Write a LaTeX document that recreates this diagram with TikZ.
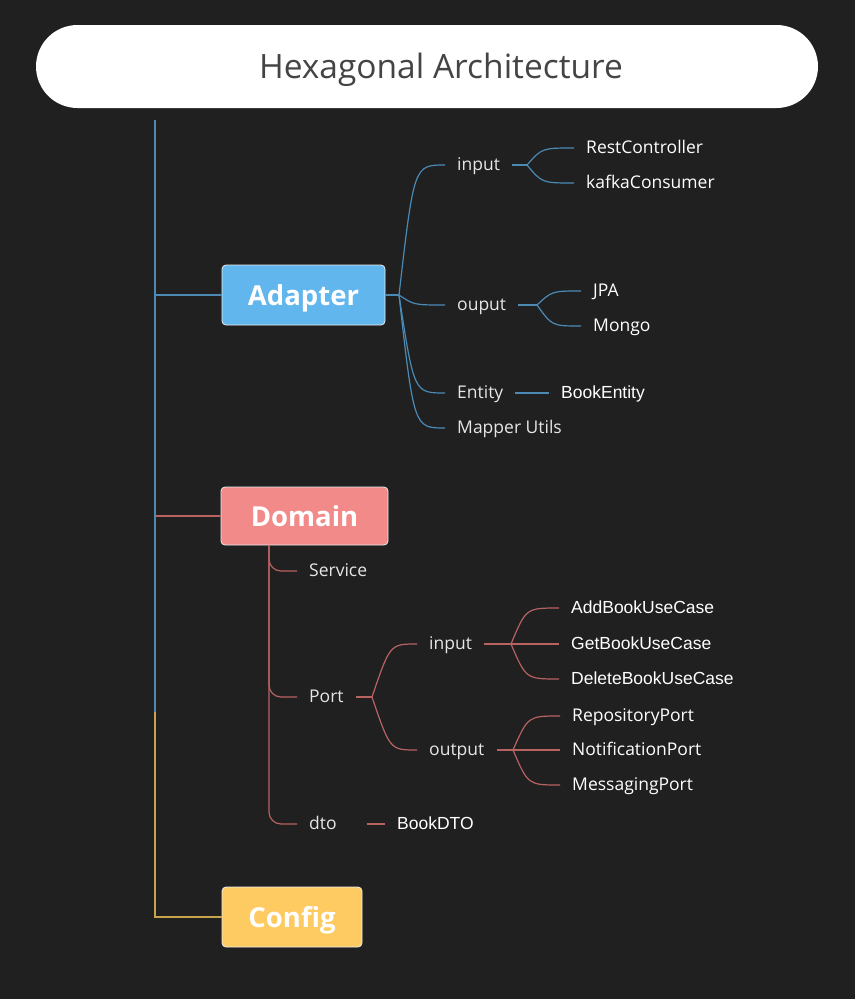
\documentclass[tikz,border=0pt]{standalone}
\usepackage{fontspec}
\setmainfont{Open Sans}
\newfontfamily\arialf{Liberation Sans}
\usetikzlibrary{calc}
\definecolor{bg}{HTML}{202020}
\definecolor{blueL}{HTML}{4A8AB4}
\definecolor{blueF}{HTML}{62B6EE}
\definecolor{redL}{HTML}{B86262}
\definecolor{redF}{HTML}{F38A8A}
\definecolor{yelL}{HTML}{C9A24C}
\definecolor{yelF}{HTML}{FECB63}
\definecolor{titleC}{HTML}{444444}
\definecolor{labC}{HTML}{E6E6E6}
\begin{document}
\begin{tikzpicture}[x=1pt,y=-1pt,
  topic/.style={rounded corners=4pt, draw=white!85!gray, line width=0.8pt, text=white,
    font=\fontsize{27.5}{30}\selectfont\bfseries, minimum height=60pt, inner sep=0pt,
    text height=24pt, text depth=3pt},
  lab/.style={anchor=west, inner xsep=12pt, inner ysep=2pt, text=labC,
    font=\fontsize{17.5}{20}\selectfont, text height=15pt, text depth=3.5pt},
  leaf/.style={lab, text=white},
  aleaf/.style={lab, text=white, font=\fontsize{17.5}{20}\selectfont\arialf},
  bl/.style={draw=blueL, line width=1.2pt},
  rl/.style={draw=redL, line width=1.2pt},
  yl/.style={draw=yelL, line width=1.2pt}]
\useasboundingbox (0,0) rectangle (855,999);
\fill[bg] (0,0) rectangle (855,999);

% title
\node[fill=white, rounded corners=41.5pt, minimum width=782pt, minimum height=83pt, inner sep=0pt] (title) at (427,66.5) {};
\node[text=titleC, font=\fontsize{33.5}{36}\selectfont, inner sep=0pt] (ttext) at (441,70) {Hexagonal Architecture};

% main topics
\node[topic, fill=blueF, minimum width=163pt] (ad) at (303.5,295) {Adapter};
\node[topic, fill=redF, minimum width=167pt, minimum height=58pt] (dm) at (304.5,516) {Domain};
\node[topic, fill=yelF, minimum width=140pt] (cf) at (292,917) {Config};

% main trunk
\coordinate (top) at (155,120);
\coordinate (split) at (155,712);
\draw[bl] (top) -- (split);
\draw[yl] (split) |- (cf.west);
\draw[bl] (top |- ad.west) -- (ad.west);
\draw[rl] (top |- dm.west) -- (dm.west);

% ---------- Adapter ----------
\node[lab] (ainp) at (445,165) {input};
\node[lab] (aout) at (445,305) {ouput};
\node[lab] (aent) at (445,393) {Entity};
\node[lab] (amap) at (445,428) {Mapper Utils};
\node[leaf] (rest) at (574,148) {RestController};
\node[leaf] (kafka) at (574,183) {kafkaConsumer};
\node[leaf] (jpa) at (581,291) {JPA};
\node[leaf] (mongo) at (581,326) {Mongo};
\node[aleaf] (bent) at (549,393) {BookEntity};

\coordinate (ab) at (399,295);
\draw[bl] (ad.east) -- (ab);
\draw[bl] (ab) .. controls (414,165) .. (ainp.west);
\draw[bl] (ab) .. controls (414,305) .. (aout.west);
\draw[bl] (ab) .. controls (414,393) .. (aent.west);
\draw[bl] (ab) .. controls (414,428) .. (amap.west);

\coordinate (aib) at (527,165);
\draw[bl] (ainp.east) -- (aib);
\draw[bl] (aib) .. controls (542,148) .. (rest.west);
\draw[bl] (aib) .. controls (542,183) .. (kafka.west);

\coordinate (aob) at (537,305);
\draw[bl] (aout.east) -- (aob);
\draw[bl] (aob) .. controls (552,291) .. (jpa.west);
\draw[bl] (aob) .. controls (552,326) .. (mongo.west);

\draw[bl] (aent.east) -- (bent.west);

% ---------- Domain ----------
\node[lab] (svc) at (297,571) {Service};
\node[lab] (port) at (297,697) {Port};
\node[lab] (dto) at (297,824) {dto};
\node[lab] (pin) at (417,644) {input};
\node[lab] (pout) at (417,750) {output};
\node[aleaf] (add) at (559,608) {AddBookUseCase};
\node[aleaf] (get) at (559,644) {GetBookUseCase};
\node[aleaf] (del) at (559,679) {DeleteBookUseCase};
\node[leaf] (rep) at (560,716) {RepositoryPort};
\node[leaf] (noti) at (560,750) {NotificationPort};
\node[leaf] (msg) at (560,785) {MessagingPort};
\node[aleaf] (bdto) at (385,824) {BookDTO};

\coordinate (dtop) at (269,545);
\draw[rl, rounded corners=12pt] (dtop) |- (svc.west);
\draw[rl, rounded corners=12pt] (dtop) |- (port.west);
\draw[rl, rounded corners=12pt] (dtop) |- (dto.west);

\coordinate (pb) at (372,697);
\draw[rl] (port.east) -- (pb);
\draw[rl] (pb) .. controls (390,644) .. (pin.west);
\draw[rl] (pb) .. controls (390,750) .. (pout.west);

\coordinate (pib) at (511,644);
\draw[rl] (pin.east) -- (pib);
\draw[rl] (pib) .. controls (526,608) .. (add.west);
\draw[rl] (pib) -- (get.west);
\draw[rl] (pib) .. controls (526,679) .. (del.west);

\coordinate (pob) at (513,750);
\draw[rl] (pout.east) -- (pob);
\draw[rl] (pob) .. controls (528,716) .. (rep.west);
\draw[rl] (pob) -- (noti.west);
\draw[rl] (pob) .. controls (528,785) .. (msg.west);

\coordinate (dtoL) at ($(dto.east)+(18,0)$);
\draw[rl] (dtoL) -- (bdto.west);
\end{tikzpicture}
\end{document}
